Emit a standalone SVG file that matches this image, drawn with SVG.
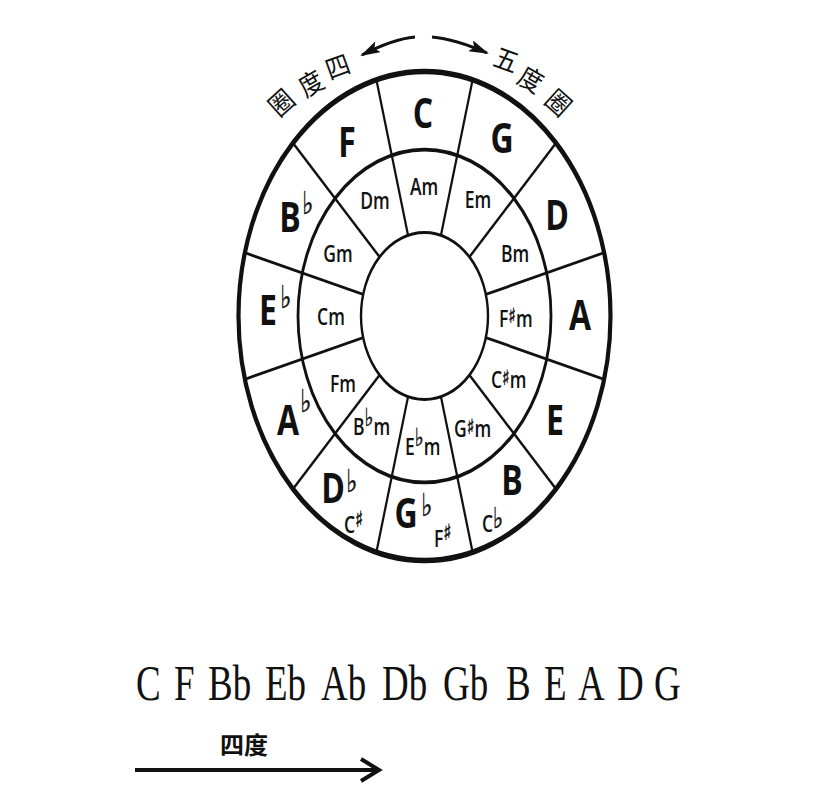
<svg xmlns="http://www.w3.org/2000/svg" width="826" height="794" viewBox="0 0 826 794">
<style>
.k{font-family:"Open Sans","Liberation Sans",sans-serif;font-weight:700;font-size:32px;text-anchor:middle;fill:#111}
.m{font-family:"Open Sans","Liberation Sans",sans-serif;font-weight:600;font-size:17.5px;text-anchor:middle;fill:#111}
.ms{font-family:"Open Sans","Liberation Sans",sans-serif;font-weight:600;font-size:17.5px;text-anchor:start;fill:#111}
.acc{font-family:"DejaVu Sans",sans-serif;font-weight:400;fill:#111;stroke:#111;stroke-width:0.35}
.cjk{font-family:"Noto Sans CJK SC",sans-serif;font-size:24px;text-anchor:middle;fill:#111}
.ring{fill:none;stroke:#111}
.div line{stroke:#111;stroke-width:2.2}
.bot{font-family:"Liberation Serif",serif;font-size:42px;fill:#111}
</style>
<defs>
<marker id="ah" markerWidth="20" markerHeight="12" refX="18" refY="6" orient="auto" markerUnits="userSpaceOnUse">
<path d="M0,0 L20,6 L0,12 L4,6 z" fill="#111"/>
</marker>
</defs>
<rect width="826" height="794" fill="#fff"/>
<g id="wheel" transform="translate(424.5,316) scale(1,1.315)">
<circle class="ring" r="186" stroke-width="4.2"/>
<circle class="ring" r="126.5" stroke-width="2.8"/>
<circle class="ring" r="63.5" stroke-width="2.4"/>
<g id="connectors" class="div">
<line x1="16.43" y1="-61.34" x2="48.14" y2="-179.66"/>
<line x1="44.90" y1="-44.90" x2="131.52" y2="-131.52"/>
<line x1="61.34" y1="-16.43" x2="179.66" y2="-48.14"/>
<line x1="61.34" y1="16.43" x2="179.66" y2="48.14"/>
<line x1="44.90" y1="44.90" x2="131.52" y2="131.52"/>
<line x1="16.43" y1="61.34" x2="48.14" y2="179.66"/>
<line x1="-16.43" y1="-61.34" x2="-48.14" y2="-179.66"/>
<line x1="-44.90" y1="-44.90" x2="-131.52" y2="-131.52"/>
<line x1="-61.34" y1="-16.43" x2="-179.66" y2="-48.14"/>
<line x1="-61.34" y1="16.43" x2="-179.66" y2="48.14"/>
<line x1="-44.90" y1="44.90" x2="-131.52" y2="131.52"/>
<line x1="-16.43" y1="61.34" x2="-48.14" y2="179.66"/>
</g>
</g>
<g id="major-keys">
<g id="key-C"><text class="k" transform="translate(423,128) scale(1,1.31)">C</text></g>
<g id="key-G"><text class="k" transform="translate(502,153) scale(1,1.31)">G</text></g>
<g id="key-D"><text class="k" transform="translate(557,230) scale(1,1.31)">D</text></g>
<g id="key-A"><text class="k" transform="translate(580,330) scale(1,1.31)">A</text></g>
<g id="key-E"><text class="k" transform="translate(555,435) scale(1,1.31)">E</text></g>
<g id="key-B"><text class="k" transform="translate(512,495) scale(1,1.31)">B</text>
<text class="ms" transform="translate(482,532) scale(1,1.31)" font-size="20">C<tspan class="acc" font-size="22" dy="-3">♭</tspan></text></g>
<g id="key-Gb"><text class="k" transform="translate(406,528) scale(1,1.31)">G</text>
<text class="acc" transform="translate(421,516) scale(1,1.31)" font-size="24">♭</text>
<text class="ms" transform="translate(434,547) scale(1,1.31)" font-size="16">F<tspan class="acc" font-size="17" dy="-5">♯</tspan></text></g>
<g id="key-Db"><text class="k" transform="translate(333,503) scale(1,1.31)">D</text>
<text class="acc" transform="translate(346,492) scale(1,1.31)" font-size="24">♭</text>
<text class="ms" transform="translate(344,533) scale(1,1.31)" font-size="17">C<tspan class="acc" font-size="17" dy="-4.5">♯</tspan></text></g>
<g id="key-Ab"><text class="k" transform="translate(288,435) scale(1,1.31)">A</text>
<text class="acc" transform="translate(300,412) scale(1,1.31)" font-size="24">♭</text></g>
<g id="key-Eb"><text class="k" transform="translate(268,325) scale(1,1.31)">E</text>
<text class="acc" transform="translate(280,308) scale(1,1.31)" font-size="24">♭</text></g>
<g id="key-Bb"><text class="k" transform="translate(290,232) scale(1,1.31)">B</text>
<text class="acc" transform="translate(302,214) scale(1,1.31)" font-size="24">♭</text></g>
<g id="key-F"><text class="k" transform="translate(347,157) scale(1,1.31)">F</text></g>
</g>
<g id="minor-keys">
<g id="min-Am"><text class="m" transform="translate(424,195) scale(1,1.31)">Am</text></g>
<g id="min-Em"><text class="m" transform="translate(478,208) scale(1,1.31)">Em</text></g>
<g id="min-Bm"><text class="m" transform="translate(515,262) scale(1,1.31)">Bm</text></g>
<g id="min-Fsm"><text class="ms" transform="translate(499,327) scale(1,1.31)">F<tspan class="acc" font-size="16" dy="-3">♯</tspan><tspan dy="3">m</tspan></text></g>
<g id="min-Csm"><text class="ms" transform="translate(491,388) scale(1,1.31)">C<tspan class="acc" font-size="16" dy="-2">♯</tspan><tspan dy="2">m</tspan></text></g>
<g id="min-Gsm"><text class="ms" transform="translate(454,437) scale(1,1.31)">G<tspan class="acc" font-size="16" dy="-2.5">♯</tspan><tspan dy="2.5">m</tspan></text></g>
<g id="min-Ebm"><text class="ms" transform="translate(405,455) scale(1,1.31)">E<tspan class="acc" font-size="19" dy="-7">♭</tspan><tspan dy="7">m</tspan></text></g>
<g id="min-Bbm"><text class="ms" transform="translate(353,435) scale(1,1.31)">B<tspan class="acc" font-size="19" dy="-7">♭</tspan><tspan dy="7">m</tspan></text></g>
<g id="min-Fm"><text class="m" transform="translate(343,392) scale(1,1.31)">Fm</text></g>
<g id="min-Cm"><text class="m" transform="translate(331,325) scale(1,1.31)">Cm</text></g>
<g id="min-Gm"><text class="m" transform="translate(338,262) scale(1,1.31)">Gm</text></g>
<g id="min-Dm"><text class="m" transform="translate(375,209) scale(1,1.31)">Dm</text></g>
</g>
<g id="arrows-top">
<path d="M415,37 Q393,39 362,55" fill="none" stroke="#111" stroke-width="3" marker-end="url(#ah)"/>
<path d="M432,37 Q455,39 487,53" fill="none" stroke="#111" stroke-width="3" marker-end="url(#ah)"/>
</g>
<g id="label-fourths">
<text class="cjk" transform="translate(288,110) rotate(-42) scale(1,1.1)">圈</text>
<text class="cjk" transform="translate(316,92) rotate(-30) scale(1,1.1)">度</text>
<text class="cjk" transform="translate(341,76) rotate(-20) scale(1,1.1)">四</text>
</g>
<g id="label-fifths">
<text class="cjk" transform="translate(503,69) rotate(20) scale(1,1.1)">五</text>
<text class="cjk" transform="translate(526,88) rotate(30) scale(1,1.1)">度</text>
<text class="cjk" transform="translate(552,110) rotate(42) scale(1,1.1)">圈</text>
</g>
<g id="sequence" class="bot">
<text transform="translate(136,700) scale(0.88,1.2)">C</text>
<text transform="translate(174,700) scale(0.88,1.2)">F</text>
<text transform="translate(208,700) scale(0.88,1.2)">Bb</text>
<text transform="translate(265,700) scale(0.88,1.2)">Eb</text>
<text transform="translate(321,700) scale(0.88,1.2)">Ab</text>
<text transform="translate(382,700) scale(0.88,1.2)">Db</text>
<text transform="translate(443,700) scale(0.88,1.2)">Gb</text>
<text transform="translate(506,700) scale(0.88,1.2)">B</text>
<text transform="translate(544,700) scale(0.88,1.2)">E</text>
<text transform="translate(578,700) scale(0.88,1.2)">A</text>
<text transform="translate(617,700) scale(0.88,1.2)">D</text>
<text transform="translate(654,700) scale(0.88,1.2)">G</text>
</g>
<g id="fourth-arrow">
<text class="cjk" x="244" y="754" font-size="25" font-weight="700">四度</text>
<line x1="135" y1="770" x2="377" y2="770" stroke="#111" stroke-width="4"/>
<polyline points="361,759 379,770 361,781" fill="none" stroke="#111" stroke-width="4" stroke-linejoin="miter"/>
</g>
</svg>
